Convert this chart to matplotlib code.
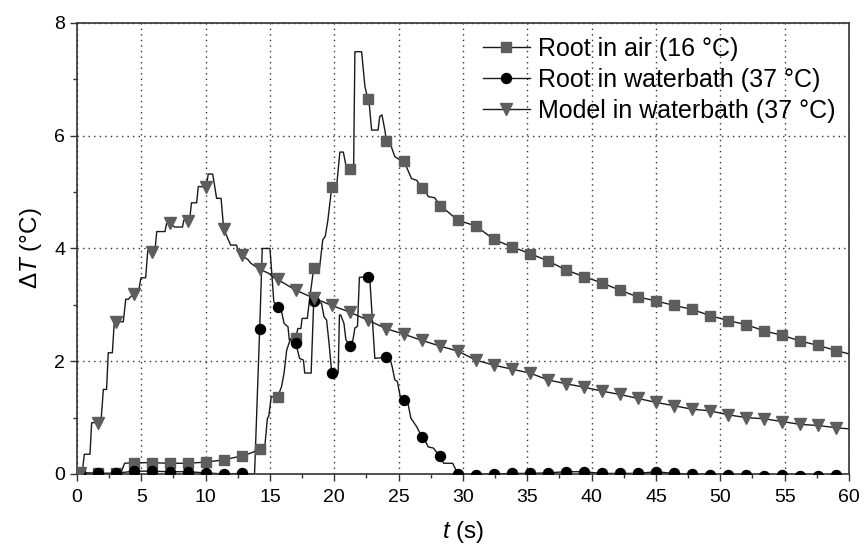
import numpy as np
import matplotlib
matplotlib.use("Agg")
import matplotlib.pyplot as plt
from matplotlib.lines import Line2D
from matplotlib.ticker import MultipleLocator

plt.rcParams['font.family'] = ['Liberation Sans', 'DejaVu Sans']
plt.rcParams['mathtext.fontset'] = 'custom'
plt.rcParams['mathtext.it'] = 'Liberation Sans:italic'
plt.rcParams['mathtext.rm'] = 'Liberation Sans'

# ---- data ----
t_marks = np.round(0.2 + 1.4 * np.arange(43), 2)

air_marks = [0.02, 0.01, 0.01, 0.20, 0.20, 0.19, 0.19, 0.21, 0.25, 0.32, 0.44,
             1.37, 2.42, 3.65, 5.09, 5.41, 6.66, 5.90, 5.55, 5.08, 4.76, 4.50,
             4.40, 4.16, 4.03, 3.91, 3.78, 3.62, 3.50, 3.39, 3.26, 3.14, 3.07,
             2.99, 2.92, 2.81, 2.72, 2.65, 2.54, 2.46, 2.36, 2.28, 2.19]

bath_marks = [0.02, 0.01, 0.01, 0.05, 0.05, 0.04, 0.04, 0.02, 0.00, 0.01, 2.57,
              2.97, 2.33, 3.07, 1.79, 2.27, 3.49, 2.07, 1.31, 0.66, 0.31, 0.00,
              -0.01, 0.00, 0.01, 0.01, 0.02, 0.04, 0.04, 0.01, 0.01, 0.01, 0.04,
              0.01, 0.00, -0.01, -0.01, -0.02, -0.03, -0.02, -0.03, -0.03, -0.01]

model_marks = [0.02, 0.91, 2.70, 3.20, 3.94, 4.45, 4.49, 5.09, 4.35, 3.88, 3.63,
               3.45, 3.26, 3.12, 2.99, 2.87, 2.73, 2.58, 2.48, 2.37, 2.27, 2.18,
               2.02, 1.93, 1.86, 1.79, 1.67, 1.60, 1.54, 1.47, 1.41, 1.34, 1.27,
               1.21, 1.15, 1.12, 1.05, 1.00, 0.98, 0.93, 0.88, 0.86, 0.82]

# detailed trace segments (before the smooth decay part)
air_t = [0.2, 1.6, 3.0, 3.4, 3.7, 4.4, 5.8, 7.2, 8.6, 10.0, 11.4, 12.8, 13.5, 14.2,
         14.6, 14.8, 14.9, 15.1, 15.6, 15.9, 16.1, 16.3, 16.6, 17.0, 17.17, 17.4,
         17.5, 17.9, 18.1, 18.4, 18.85, 19.1, 19.3, 19.5, 19.8, 20.2, 20.43, 20.7,
         20.95, 21.2, 21.5, 21.6, 22.12, 22.38, 22.6, 22.7, 22.9, 23.4, 23.53, 23.7,
         23.93, 24.06, 24.3, 24.7, 25.1, 25.4, 25.6, 26.0, 26.4, 26.8, 27.05, 27.3,
         27.8, 28.2]
air_y = [0.02, 0.01, 0.01, 0.01, 0.19, 0.20, 0.20, 0.19, 0.19, 0.21, 0.25, 0.32, 0.37, 0.44,
         0.49, 0.99, 1.02, 1.37, 1.37, 1.55, 1.80, 2.20, 2.40, 2.42, 2.58, 2.58,
         2.76, 2.76, 3.14, 3.65, 3.65, 4.15, 4.22, 4.50, 5.09, 5.15, 5.71, 5.71,
         5.42, 5.42, 5.42, 7.49, 7.49, 6.87, 6.66, 6.60, 6.10, 6.10, 6.34, 6.37,
         6.10, 5.89, 5.89, 5.63, 5.57, 5.56, 5.45, 5.24, 5.21, 5.07, 5.04, 4.92,
         4.90, 4.77]
air_end = 2.13

bath_t = [0.2, 1.6, 3.0, 4.4, 5.8, 7.2, 8.6, 10.0, 11.4, 12.8, 13.8, 14.2, 14.4, 15.0,
          15.3, 15.6, 15.9, 16.1, 16.4, 16.5, 17.0, 17.3, 17.6, 17.7, 18.2, 18.4, 19.0,
          19.2, 19.4, 19.6, 19.8, 20.3, 20.4, 20.5, 20.75, 20.9, 21.2, 21.45, 21.6,
          21.8, 21.95, 22.6, 22.75, 23.15, 24.0, 24.3, 24.5, 24.7, 24.9, 25.1, 25.4,
          25.7, 25.95, 26.4, 26.8, 27.0, 27.3, 27.7, 28.2, 28.5, 29.2, 29.6]
bath_y = [0.02, 0.01, 0.01, 0.05, 0.05, 0.04, 0.04, 0.02, 0.00, 0.01, 0.00, 2.57, 4.00, 4.00,
          3.05, 2.97, 2.88, 2.67, 2.61, 2.38, 2.33, 2.05, 2.02, 1.79, 1.79, 3.07, 3.03,
          2.79, 2.73, 2.30, 1.79, 1.79, 2.82, 2.82, 2.67, 2.38, 2.27, 2.38, 2.59,
          2.62, 3.49, 3.49, 3.49, 2.05, 2.07, 2.07, 1.90, 1.67, 1.64, 1.40, 1.31,
          1.28, 0.99, 0.84, 0.66, 0.62, 0.48, 0.46, 0.31, 0.19, 0.19, 0.00]

model_t = [0.0, 0.2, 0.41, 0.57, 1.01, 1.14, 1.6, 1.86, 2.05, 2.3, 2.43, 2.75, 2.9, 3.0,
           3.6, 3.79, 4.0, 4.4, 4.77, 4.97, 5.34, 5.5, 5.8, 6.06, 6.2, 6.84, 6.97, 7.2,
           7.6, 8.2, 8.3, 8.6, 8.75, 8.9, 9.3, 9.43, 10.0, 10.05, 10.2, 10.55, 10.85,
           11.2, 11.4, 11.94, 12.4, 12.5, 12.8, 13.3, 13.5, 14.2, 14.9, 15.3, 15.6]
model_y = [0.01, 0.02, 0.03, 0.35, 0.35, 0.91, 0.91, 0.91, 1.50, 1.50, 2.15, 2.15, 2.70, 2.70,
           2.70, 3.10, 3.10, 3.20, 3.22, 3.48, 3.48, 3.96, 3.94, 3.96, 4.30, 4.30, 4.45, 4.45,
           4.38, 4.38, 4.50, 4.49, 4.50, 4.81, 4.81, 5.10, 5.09, 5.10, 5.32, 5.32, 4.89,
           4.89, 4.35, 4.06, 4.06, 3.97, 3.88, 3.80, 3.74, 3.63, 3.56, 3.48, 3.45]
model_end = 0.80

labels = ['Root in air (16 °C)', 'Root in waterbath (37 °C)', 'Model in waterbath (37 °C)']

x_ticks = list(range(0, 61, 5))
y_ticks = list(range(0, 9, 2))

# ---- build full traces ----
def full_trace(dt, dy, marks, end=None, tmax=60.0):
    start = int(np.searchsorted(t_marks, dt[-1] + 1e-6))
    tt = list(dt) + list(t_marks[start:])
    yy = list(dy) + list(marks[start:])
    if end is not None:
        tt.append(tmax)
        yy.append(end)
    return tt, yy

air_full = full_trace(air_t, air_y, air_marks, air_end)
bath_full = full_trace(bath_t, bath_y, bath_marks, None)
model_full = full_trace(model_t, model_y, model_marks, model_end)

grey = '#5d5d5d'

fig = plt.figure(figsize=(8.64, 5.47), dpi=100)
ax = fig.add_axes([0.0891, 0.1335, 0.8935, 0.8245])

line_kw = dict(color='#1a1a1a', lw=1.0, zorder=2)
ax.plot(*air_full, **line_kw)
ax.plot(*bath_full, **line_kw)
ax.plot(*model_full, **line_kw)

ax.plot(t_marks, air_marks, ls='none', marker='s', ms=6.8, mfc=grey, mec=grey, zorder=3)
ax.plot(t_marks, bath_marks, ls='none', marker='o', ms=7.2, mfc='black', mec='black', zorder=3)
ax.plot(t_marks, model_marks, ls='none', marker='v', ms=8.0, mfc=grey, mec=grey, zorder=3)

ax.set_xlim(0, 60)
ax.set_ylim(0, 8)
ax.set_xticks(x_ticks)
ax.set_yticks(y_ticks)
ax.xaxis.set_minor_locator(MultipleLocator(2.5))
ax.yaxis.set_minor_locator(MultipleLocator(1))
ax.tick_params(which='major', direction='out', length=5, width=1.0, labelsize=14, color='#333333')
ax.tick_params(axis='x', which='major', pad=6)
ax.tick_params(which='minor', direction='out', length=3, width=1.0, color='#333333')
ax.tick_params(top=False, right=False, which='both')
for s in ax.spines.values():
    s.set_linewidth(1.2)
    s.set_color('#333333')

ax.grid(True, which='major', ls=(0, (1, 3)), color='#333333', lw=1.0)
ax.set_axisbelow(True)

ax.set_xlabel('$t$ (s)', fontsize=17.5, labelpad=9.5)
ax.set_ylabel('Δ$T$ (°C)', fontsize=17.5, labelpad=7)

handles = [
    Line2D([], [], color='#1a1a1a', lw=1.0, marker='s', ms=6.8, mfc=grey, mec=grey),
    Line2D([], [], color='#1a1a1a', lw=1.0, marker='o', ms=7.2, mfc='black', mec='black'),
    Line2D([], [], color='#1a1a1a', lw=1.0, marker='v', ms=8.0, mfc=grey, mec=grey),
]
leg = ax.legend(handles, labels, loc='upper right', bbox_to_anchor=(1.0, 1.0),
                frameon=False, fontsize=18, handlelength=1.9, handletextpad=0.3,
                labelspacing=0.28, borderaxespad=0.15, numpoints=1)

fig.savefig('out.png', dpi=100)
